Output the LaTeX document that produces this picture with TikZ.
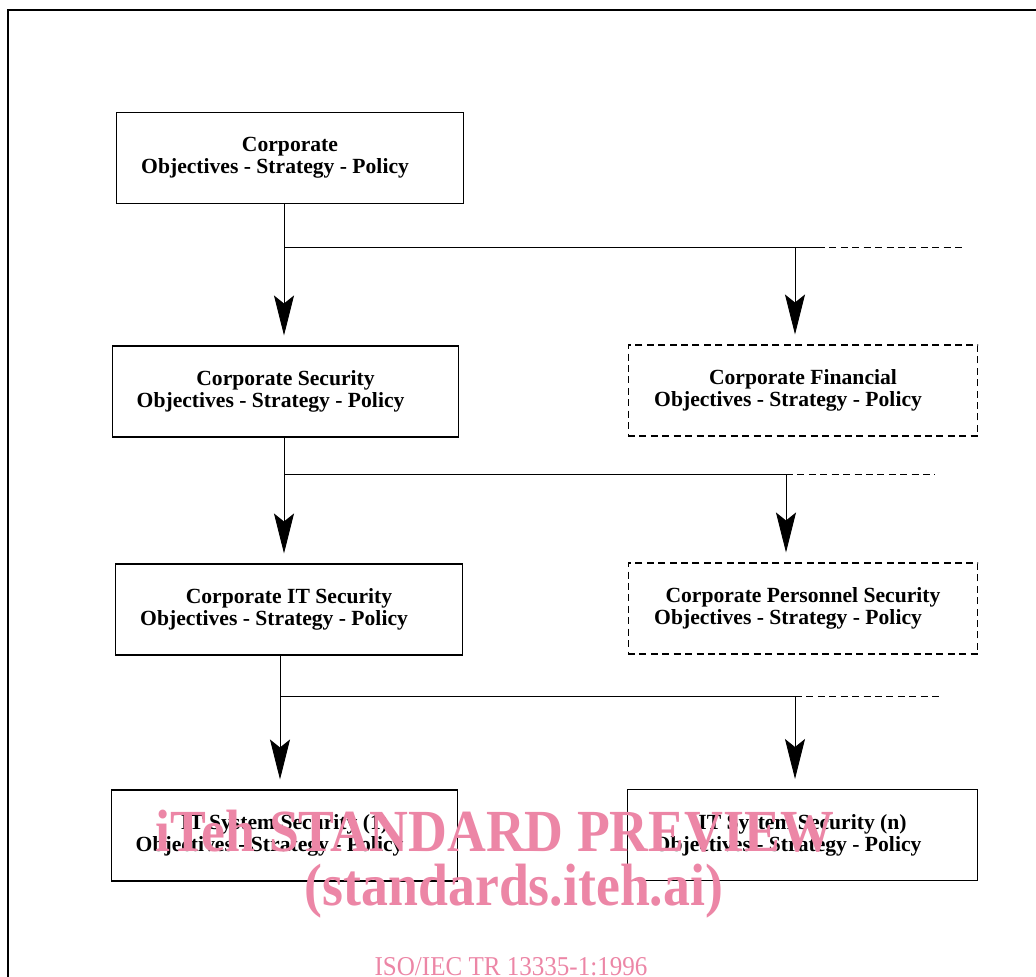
\documentclass[tikz,border=0pt]{standalone}
\usepackage{fontspec}
\setmainfont{Liberation Serif}
\usetikzlibrary{arrows.meta}
\definecolor{wmpink}{RGB}{236,134,166}
\newcommand{\osp}{Objectives - Strategy - Policy\hspace*{17pt}}
\tikzset{
  box/.style={draw, line width=0.6pt, minimum width=6.94cm, minimum height=1.82cm,
    align=center, font=\bfseries\fontsize{12.3}{12.6}\selectfont},
  wbox/.style={box, minimum width=7cm},
  dbox/.style={wbox, dash pattern=on 4pt off 2.5pt},
  flow/.style={line width=0.5pt, -{Stealth[length=0.8cm, width=0.4cm, inset=0.16cm]}, shorten >=0.2cm},
  link/.style={line width=0.5pt},
  dlink/.style={line width=0.5pt, dash pattern=on 4pt off 2.5pt},
  wmark/.style={text=wmpink, anchor=base}
}

\begin{document}
\begin{tikzpicture}[x=0.02cm, y=-0.02cm]
        \useasboundingbox (0,0) rectangle (1036,977);
        \draw[line width=1.3pt] (8,977) -- (8,10) -- (1036,10);

        \node[box] (corp) at (290,158) {Corporate\\\osp};
        \node[box] (sec) at (285.5,391.5) {Corporate Security\\\osp};
        \node[dbox] (fin) at (803,390.5) {Corporate Financial\\\osp};
        \node[box] (itsec) at (289,609.5) {Corporate IT Security\\\osp};
        \node[dbox] (pers) at (803,608.5) {Corporate Personnel Security\\\osp};
        \node[box] (sys1) at (284.5,835.5) {IT System Security (1)\\\osp};
        \node[wbox] (sysn) at (802.5,835) {IT System Security (n)\\\osp};

        \coordinate (j1) at (284,247);
        \coordinate (b1) at (795,247);
        \coordinate (e1) at (818,247);
        \coordinate (f1) at (965,247);
        \draw[flow] (corp.south -| j1) -- (sec.north -| j1);
        \draw[link] (j1) -- (e1);
        \draw[dlink] (e1) -- (f1);
        \draw[flow] (b1) -- (fin.north -| b1);

        \coordinate (j2) at (284,474);
        \coordinate (b2) at (786,474);
        \coordinate (f2) at (935,474);
        \draw[flow] (sec.south -| j2) -- (itsec.north -| j2);
        \draw[link] (j2) -- (b2);
        \draw[dlink] (b2) -- (f2);
        \draw[flow] (b2) -- (pers.north -| b2);

        \coordinate (j3) at (280,696);
        \coordinate (b3) at (795,696);
        \coordinate (f3) at (943,696);
        \draw[flow] (itsec.south -| j3) -- (sys1.north -| j3);
        \draw[link] (j3) -- (b3);
        \draw[dlink] (b3) -- (f3);
        \draw[flow] (b3) -- (sysn.north -| b3);

        \node[wmark, font=\bfseries\fontsize{34}{34}\selectfont] (wm1) at (495,851) {\scalebox{0.9}[1]{iTeh STANDARD PREVIEW}};
        \node[wmark, font=\bfseries\fontsize{34}{34}\selectfont] (wm2) at (514,905) {\scalebox{0.9}[1]{(standards.iteh.ai)}};
        \node[wmark, font=\fontsize{15.5}{15.5}\selectfont] (wm3) at (511,975) {\scalebox{0.92}[1]{ISO/IEC TR 13335-1:1996}};
\end{tikzpicture}
\end{document}
